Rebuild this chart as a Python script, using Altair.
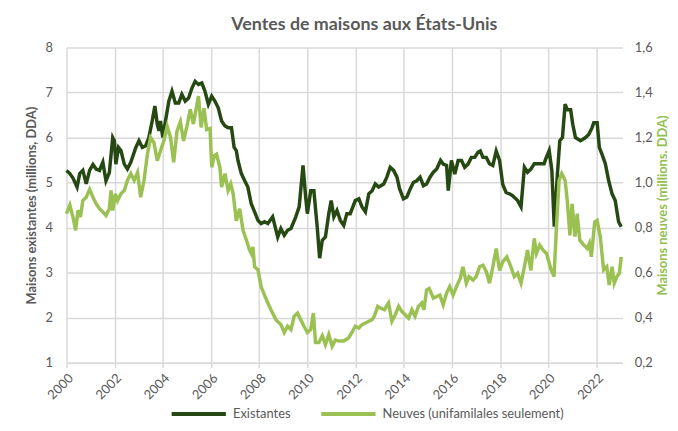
import altair as alt
import pandas as pd

# Existantes (millions, DDA) - left axis
ex_year = [2000.00, 2000.14, 2000.27, 2000.44, 2000.55, 2000.68, 2000.82, 2000.96, 2001.10, 2001.23,
           2001.37, 2001.51, 2001.64, 2001.78, 2001.92, 2001.99, 2002.05, 2002.16, 2002.26, 2002.40,
           2002.53, 2002.67, 2002.88, 2003.01, 2003.15, 2003.29, 2003.42, 2003.56, 2003.67, 2003.77,
           2003.84, 2003.90, 2004.00, 2004.11, 2004.25, 2004.38, 2004.52, 2004.66, 2004.79, 2004.93,
           2005.07, 2005.21, 2005.34, 2005.48, 2005.62, 2005.75, 2005.89, 2006.03, 2006.16, 2006.30,
           2006.44, 2006.58, 2006.71, 2006.85, 2006.96, 2007.05, 2007.12, 2007.26, 2007.40, 2007.53,
           2007.67, 2007.81, 2007.95, 2008.08, 2008.22, 2008.36, 2008.56, 2008.70, 2008.77, 2008.90,
           2009.04, 2009.18, 2009.32, 2009.52, 2009.66, 2009.82, 2009.93, 2010.00, 2010.14, 2010.27,
           2010.41, 2010.51, 2010.62, 2010.75, 2010.89, 2010.99, 2011.10, 2011.23, 2011.37, 2011.51,
           2011.64, 2011.78, 2011.99, 2012.14, 2012.27, 2012.41, 2012.55, 2012.69, 2012.82, 2012.96,
           2013.17, 2013.30, 2013.44, 2013.58, 2013.72, 2013.83, 2013.99, 2014.13, 2014.27, 2014.40,
           2014.54, 2014.68, 2014.82, 2014.95, 2015.09, 2015.23, 2015.37, 2015.53, 2015.64, 2015.78,
           2015.85, 2015.98, 2016.12, 2016.26, 2016.40, 2016.53, 2016.67, 2016.81, 2016.95, 2017.08,
           2017.18, 2017.29, 2017.43, 2017.56, 2017.70, 2017.84, 2017.98, 2018.11, 2018.25, 2018.39,
           2018.52, 2018.73, 2018.87, 2019.01, 2019.14, 2019.28, 2019.42, 2019.62, 2019.83, 2019.90,
           2020.04, 2020.15, 2020.25, 2020.38, 2020.48, 2020.59, 2020.70, 2020.79, 2020.93, 2021.02,
           2021.13, 2021.34, 2021.55, 2021.68, 2021.82, 2021.89, 2022.03, 2022.12, 2022.23, 2022.37,
           2022.51, 2022.65, 2022.78, 2022.92, 2023.03]
ex_val = [5.27, 5.20, 5.10, 4.90, 5.20, 5.27, 4.97, 5.27, 5.40, 5.30,
          5.27, 5.45, 5.04, 5.22, 6.00, 5.93, 5.41, 5.78, 5.71, 5.41,
          5.30, 5.45, 5.78, 5.93, 5.78, 5.82, 6.00, 6.37, 6.70, 6.29,
          6.15, 6.37, 6.00, 6.37, 6.81, 7.03, 6.77, 6.77, 6.96, 6.81,
          6.88, 7.10, 7.25, 7.18, 7.21, 7.03, 6.74, 6.92, 6.81, 6.66,
          6.37, 6.26, 6.22, 6.22, 5.78, 5.71, 5.49, 5.20, 5.04, 4.90,
          4.53, 4.35, 4.16, 4.09, 4.13, 4.09, 4.24, 3.94, 3.79, 3.98,
          3.83, 3.94, 3.98, 4.24, 4.46, 5.38, 4.68, 4.31, 4.82, 4.82,
          4.01, 3.32, 3.72, 3.79, 4.31, 4.60, 4.24, 4.38, 4.16, 4.05,
          4.31, 4.31, 4.60, 4.64, 4.46, 4.35, 4.75, 4.82, 4.97, 4.90,
          4.97, 5.12, 5.34, 5.27, 5.12, 4.86, 4.64, 4.68, 4.86, 5.00,
          5.04, 5.12, 4.93, 4.97, 5.12, 5.23, 5.30, 5.49, 5.41, 5.38,
          4.82, 5.49, 5.19, 5.49, 5.49, 5.34, 5.41, 5.56, 5.56, 5.67,
          5.70, 5.56, 5.56, 5.42, 5.38, 5.70, 5.49, 4.96, 4.78, 4.75,
          4.71, 4.60, 4.46, 5.34, 5.23, 5.30, 5.42, 5.42, 5.42, 5.53,
          5.71, 5.27, 4.02, 5.19, 5.93, 6.00, 6.74, 6.62, 6.62, 6.29,
          6.00, 5.93, 6.00, 6.07, 6.22, 6.33, 6.33, 5.78, 5.63, 5.42,
          5.04, 4.75, 4.60, 4.13, 4.02]

# Neuves (unifamiliales seulement, millions, DDA) - right axis
nw_year = [2000.00, 2000.14, 2000.27, 2000.38, 2000.48, 2000.58, 2000.68, 2000.82, 2000.96, 2001.10,
           2001.23, 2001.37, 2001.51, 2001.64, 2001.78, 2001.85, 2001.92, 2002.03, 2002.12, 2002.26,
           2002.40, 2002.53, 2002.67, 2002.81, 2002.95, 2003.08, 2003.22, 2003.36, 2003.49, 2003.63,
           2003.77, 2003.90, 2004.04, 2004.18, 2004.32, 2004.45, 2004.59, 2004.73, 2004.86, 2005.00,
           2005.14, 2005.27, 2005.37, 2005.48, 2005.59, 2005.71, 2005.82, 2005.96, 2006.03, 2006.14,
           2006.23, 2006.37, 2006.44, 2006.58, 2006.71, 2006.82, 2006.92, 2007.05, 2007.19, 2007.33,
           2007.47, 2007.60, 2007.67, 2007.74, 2007.81, 2007.95, 2008.08, 2008.22, 2008.36, 2008.49,
           2008.70, 2008.90, 2009.04, 2009.18, 2009.32, 2009.45, 2009.59, 2009.73, 2009.86, 2010.00,
           2010.14, 2010.25, 2010.34, 2010.48, 2010.62, 2010.75, 2010.89, 2011.03, 2011.16, 2011.30,
           2011.51, 2011.71, 2011.85, 2011.99, 2012.14, 2012.27, 2012.41, 2012.55, 2012.69, 2012.78,
           2012.92, 2013.03, 2013.20, 2013.37, 2013.51, 2013.65, 2013.79, 2013.92, 2014.06, 2014.20,
           2014.34, 2014.47, 2014.61, 2014.75, 2014.84, 2014.95, 2015.06, 2015.23, 2015.37, 2015.50,
           2015.64, 2015.78, 2015.91, 2016.05, 2016.19, 2016.35, 2016.46, 2016.60, 2016.71, 2016.88,
           2017.01, 2017.15, 2017.29, 2017.43, 2017.56, 2017.70, 2017.84, 2017.98, 2018.11, 2018.28,
           2018.45, 2018.59, 2018.73, 2018.87, 2019.01, 2019.14, 2019.28, 2019.42, 2019.51, 2019.65,
           2019.79, 2019.93, 2020.10, 2020.24, 2020.34, 2020.45, 2020.56, 2020.70, 2020.79, 2020.90,
           2020.99, 2021.11, 2021.20, 2021.31, 2021.48, 2021.62, 2021.71, 2021.79, 2021.93, 2022.03,
           2022.16, 2022.30, 2022.43, 2022.53, 2022.65, 2022.74, 2022.85, 2022.95, 2023.03]
nw_val = [0.862, 0.900, 0.847, 0.788, 0.877, 0.847, 0.920, 0.935, 0.970, 0.935,
          0.906, 0.884, 0.869, 0.854, 0.884, 0.965, 0.876, 0.950, 0.920, 0.950,
          0.965, 1.010, 1.040, 1.010, 1.045, 0.935, 1.010, 1.126, 1.200, 1.178,
          1.097, 1.140, 1.185, 1.250, 1.200, 1.090, 1.230, 1.270, 1.185, 1.250,
          1.325, 1.260, 1.320, 1.384, 1.245, 1.330, 1.236, 1.240, 1.068, 1.120,
          1.126, 1.068, 0.980, 1.040, 0.965, 0.994, 0.950, 0.830, 0.884, 0.788,
          0.744, 0.700, 0.685, 0.714, 0.626, 0.612, 0.538, 0.500, 0.465, 0.435,
          0.390, 0.370, 0.334, 0.362, 0.347, 0.406, 0.420, 0.390, 0.362, 0.334,
          0.347, 0.420, 0.290, 0.290, 0.320, 0.280, 0.325, 0.273, 0.300, 0.296,
          0.296, 0.310, 0.334, 0.362, 0.354, 0.369, 0.376, 0.384, 0.391, 0.406,
          0.450, 0.443, 0.435, 0.465, 0.384, 0.413, 0.450, 0.428, 0.413, 0.398,
          0.435, 0.406, 0.450, 0.465, 0.435, 0.523, 0.530, 0.487, 0.494, 0.500,
          0.457, 0.509, 0.538, 0.500, 0.538, 0.575, 0.626, 0.553, 0.582, 0.567,
          0.582, 0.626, 0.633, 0.604, 0.553, 0.626, 0.707, 0.610, 0.648, 0.670,
          0.626, 0.582, 0.597, 0.553, 0.626, 0.700, 0.610, 0.752, 0.685, 0.722,
          0.700, 0.685, 0.619, 0.582, 0.800, 1.010, 1.040, 1.010, 0.920, 0.766,
          0.905, 0.760, 0.862, 0.744, 0.722, 0.707, 0.730, 0.670, 0.825, 0.832,
          0.759, 0.612, 0.626, 0.545, 0.626, 0.553, 0.582, 0.597, 0.670]

series_names = ["Existantes", "Neuves (unifamilales seulement)"]
series_colors = ["#264812", "#9BC153"]
year_ticks = list(range(2000, 2023, 2))
left_ticks = [1, 2, 3, 4, 5, 6, 7, 8]
right_ticks = [0.2, 0.4, 0.6, 0.8, 1.0, 1.2, 1.4, 1.6]

df_ex = pd.DataFrame({"annee": ex_year, "valeur": ex_val, "serie": series_names[0]})
df_nw = pd.DataFrame({"annee": nw_year, "valeur": nw_val, "serie": series_names[1]})

FONT = "Lato"
GRAY = "#595959"
GRID = "#D9D9D9"

x_enc = alt.X("annee:Q",
              scale=alt.Scale(domain=[2000, 2023.08], nice=False, zero=False),
              axis=alt.Axis(values=year_ticks, format="d", title=None, labelAngle=-45,
                            labelAlign="right", labelBaseline="top", labelPadding=4,
                            labelFontSize=13, labelColor=GRAY, labelFont=FONT,
                            grid=True, gridColor=GRID, gridWidth=1.5,
                            domain=True, domainColor=GRID, domainWidth=1.5,
                            ticks=True, tickColor=GRID, tickSize=5, tickWidth=1.5))

color_enc = alt.Color("serie:N",
                      scale=alt.Scale(domain=series_names, range=series_colors),
                      legend=alt.Legend(title=None, orient="none", legendX=104, legendY=340,
                                        direction="horizontal", symbolType="stroke",
                                        symbolSize=3000, symbolStrokeWidth=4,
                                        labelFontSize=13, labelColor=GRAY, labelFont=FONT,
                                        labelLimit=400,
                                        columnPadding=22, labelOffset=5))

left = alt.Chart(df_ex).mark_line(strokeWidth=3.5).encode(
    x=x_enc,
    y=alt.Y("valeur:Q", scale=alt.Scale(domain=[1, 8], nice=False, zero=False),
            axis=alt.Axis(values=left_ticks, title="Maisons existantes (millions, DDA)",
                          titleFontSize=13, titleFont=FONT, titleColor=GRAY, titleFontWeight="bold",
                          titlePadding=7,
                          labelFontSize=13, labelColor=GRAY, labelFont=FONT, labelPadding=14,
                          ticks=False, domain=False,
                          grid=True, gridColor=GRID, gridWidth=1.5)),
    color=color_enc,
)

right = alt.Chart(df_nw).mark_line(strokeWidth=3.5).encode(
    x=x_enc,
    y=alt.Y("valeur:Q", scale=alt.Scale(domain=[0.2, 1.6], nice=False, zero=False),
            axis=alt.Axis(orient="right", values=right_ticks,
                          labelExpr="replace(format(datum.value, '.1f'), '.', ',')",
                          title="Maisons neuves (millions. DDA)", titleAngle=270,
                          titleBaseline="top",
                          titleFontSize=13, titleFont=FONT, titleColor="#92C050",
                          titleFontWeight="bold", titlePadding=4,
                          labelFontSize=13, labelColor=GRAY, labelFont=FONT, labelPadding=12,
                          ticks=False, domain=False, grid=False)),
    color=color_enc,
)

chart = alt.layer(left, right).resolve_scale(y="independent").properties(
    width=561, height=318,
    title=alt.TitleParams("Ventes de maisons aux États-Unis", fontSize=18, font=FONT,
                          fontWeight="bold", color=GRAY, anchor="middle", dx=20, offset=8),
    autosize=alt.AutoSizeParams(type="none"),
    padding={"left": 59, "top": 38, "right": 48, "bottom": 59},
).configure_view(stroke=None)

chart.save("out.html", embed_options={"renderer": "svg", "actions": False})
